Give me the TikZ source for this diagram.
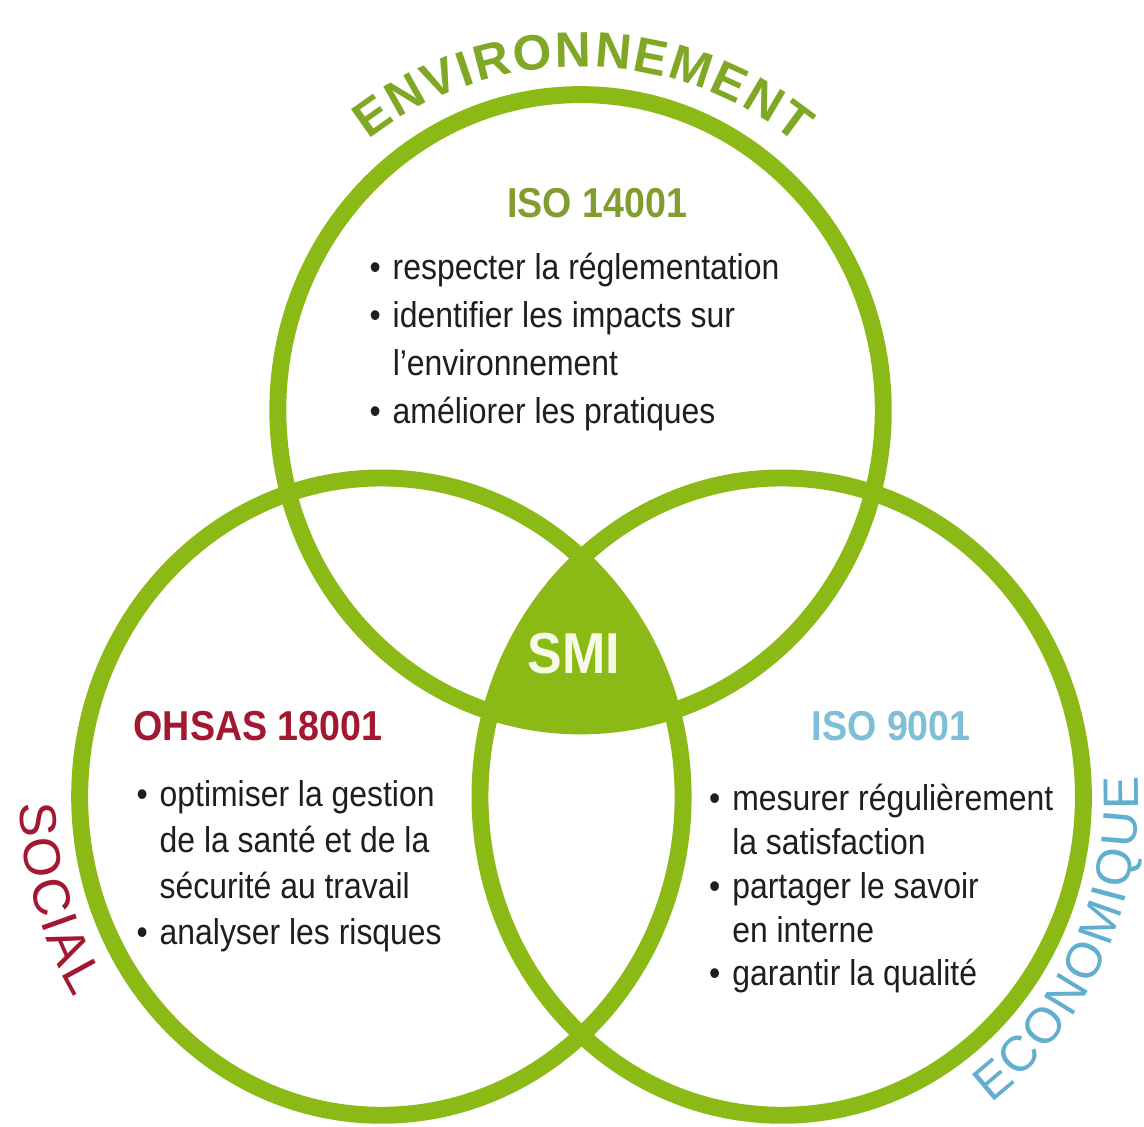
\documentclass[tikz,border=0pt]{standalone}
\usepackage{fontspec}
\usepackage{xcolor}
\usetikzlibrary{decorations.text}
\newfontfamily\corpsfont{Liberation Sans}[FakeStretch=0.89]
\newfontfamily\titrefont{Liberation Sans}[FakeStretch=0.9]
\newfontfamily\arcfont{Liberation Sans}
\definecolor{vertsmi}{RGB}{139,185,22}
\definecolor{vertenv}{RGB}{128,168,38}
\definecolor{vertiso}{RGB}{128,158,48}
\definecolor{rougesoc}{RGB}{163,24,48}
\definecolor{bleuiso}{RGB}{125,190,216}
\definecolor{bleueco}{RGB}{98,174,208}
\definecolor{textegris}{RGB}{30,30,30}
\definecolor{blancsmi}{RGB}{246,250,228}
\tikzset{
    cercle/.style={draw=vertsmi, line width=17pt},
    titre/.style={anchor=base west, inner sep=0pt, font=\titrefont\bfseries\fontsize{42}{50}\selectfont},
    liste/.style={anchor=base west, inner sep=0pt, text=textegris, font=\corpsfont\fontsize{36}{#1}\selectfont},
    liste/.default=48,
    arctexte/.style={decorate, decoration={text along path, text align={fit to path}, #1}},
}

\begin{document}
\begin{tikzpicture}[x=1pt, y=1pt]
                \fill[white] (0,0) rectangle (1144,-1131);
                \coordinate (centreEnv) at (583,-412);
                \coordinate (centreSoc) at (383,-800);
                \coordinate (centreEco) at (785,-800);
                \begin{scope}
                    \clip (centreEnv) ellipse [x radius=304, y radius=317];
                    \clip (centreSoc) ellipse [x radius=303, y radius=320];
                    \fill[vertsmi] (centreEco) ellipse [x radius=303, y radius=320];
                \end{scope}
                \draw[cercle] (centreEnv) ellipse [x radius=304, y radius=317];
                \draw[cercle] (centreSoc) ellipse [x radius=303, y radius=320];
                \draw[cercle] (centreEco) ellipse [x radius=303, y radius=320];
                \path[arctexte={text={|\arcfont\bfseries\fontsize{50}{60}\selectfont|ENVIRONNEMENT}, text color=vertenv}]
                    ([shift={(centreEnv)}]128:345) arc[start angle=128, end angle=51, radius=345];
                \path[arctexte={text={|\arcfont\fontsize{52}{60}\selectfont|SOCIAL}, text color=rougesoc}]
                    ([shift={(centreSoc)}]181:363 and 380) arc[start angle=181, end angle=212, x radius=363, y radius=380];
                \path[arctexte={text={|\arcfont\fontsize{50}{60}\selectfont|ECONOMIQUE}, text color=bleueco}]
                    ([shift={(centreEco)}]-54:358 and 380) arc[start angle=-54, end angle=3, x radius=358, y radius=380];
                \node[anchor=base, inner sep=0pt, text=blancsmi, font=\titrefont\bfseries\fontsize{58}{60}\selectfont] (smi) at (576,-676) {SMI};
                \node[titre, text=vertiso] (iso14001) at (509,-218) {ISO 14001};
                \node[titre, text=rougesoc] (ohsas) at (134,-744) {OHSAS 18001};
                \node[titre, text=bleuiso] (iso9001) at (815,-744) {ISO 9001};
                \node[liste] (listeEnv) at (371,-281) {\begin{tabular}[t]{@{}l@{\hspace{12pt}}l@{}}
                    • & respecter la réglementation\\
                    • & identifier les impacts sur\\
                      & l’environnement\\
                    • & améliorer les pratiques
                \end{tabular}};
                \node[liste=46] (listeSoc) at (137,-810) {\begin{tabular}[t]{@{}l@{\hspace{12pt}}l@{}}
                    • & optimiser la gestion\\
                      & de la santé et de la\\
                      & sécurité au travail\\
                    • & analyser les risques
                \end{tabular}};
                \node[liste=44] (listeEco) at (712,-814) {\begin{tabular}[t]{@{}l@{\hspace{12pt}}l@{}}
                    • & mesurer régulièrement\\
                      & la satisfaction\\
                    • & partager le savoir\\
                      & en interne\\
                    • & garantir la qualité
                \end{tabular}};
\end{tikzpicture}
\end{document}
